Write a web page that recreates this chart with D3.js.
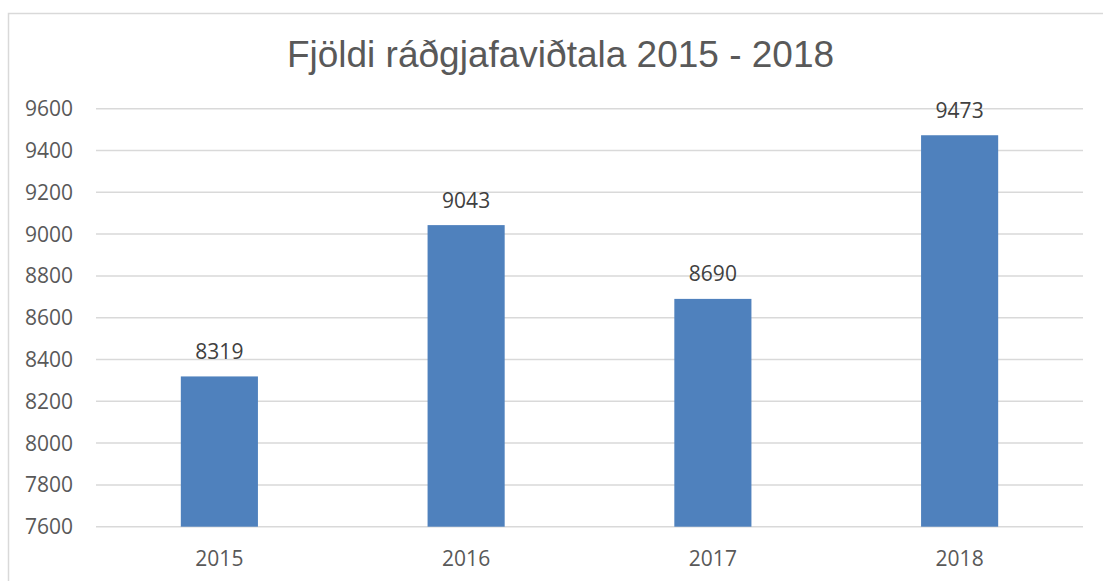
<!DOCTYPE html>
<html>
<head>
<meta charset="utf-8">
<script src="https://cdn.jsdelivr.net/npm/d3@7"></script>
<style>
  body { margin: 0; background: #fff; }
  svg { display: block; }
</style>
</head>
<body>
<div class="chart"></div>
<script>
var years = ["2015", "2016", "2017", "2018"];
var counts = [8319, 9043, 8690, 9473];
var yTicks = [7600, 7800, 8000, 8200, 8400, 8600, 8800, 9000, 9200, 9400, 9600];
var title = "Fjöldi ráðgjafaviðtala 2015 - 2018";

var width = 1103, height = 581;
var margin = {top: 108.7, right: 20, bottom: 54.3, left: 96};

var svg = d3.select(".chart")
    .append("svg")
    .attr("width", width)
    .attr("height", height);

// chart frame
svg.append("rect")
    .attr("x", 8.5)
    .attr("y", 13.5)
    .attr("width", width + 20)
    .attr("height", height + 20)
    .style("fill", "none")
    .style("stroke", "#d9d9d9")
    .style("stroke-width", 1.5);

var x = d3.scaleBand()
    .domain(years)
    .range([margin.left, 1083])
    .paddingInner(0.6875)
    .paddingOuter(0.34375);

var y = d3.scaleLinear()
    .domain([7600, 9600])
    .range([height - margin.bottom, margin.top]);

// gridlines
svg.append("g")
    .selectAll("line")
    .data(yTicks)
    .enter()
    .append("line")
    .attr("x1", margin.left)
    .attr("x2", 1083)
    .attr("y1", function(d) { return y(d); })
    .attr("y2", function(d) { return y(d); })
    .style("stroke", "#d9d9d9")
    .style("stroke-width", 1.5);

// y axis labels
svg.append("g")
    .selectAll("text")
    .data(yTicks)
    .enter()
    .append("text")
    .attr("x", 73)
    .attr("y", function(d) { return y(d); })
    .attr("dy", "0.36em")
    .attr("text-anchor", "end")
    .style("font-family", "'Open Sans', sans-serif")
    .style("font-size", "21px")
    .style("fill", "#595959")
    .text(function(d) { return d; });

// bars
svg.append("g")
    .selectAll("rect")
    .data(counts)
    .enter()
    .append("rect")
    .attr("x", function(d, i) { return x(years[i]); })
    .attr("y", function(d) { return y(d); })
    .attr("width", x.bandwidth())
    .attr("height", function(d) { return y(7600) - y(d); })
    .style("fill", "#4f81bd");

// data labels
svg.append("g")
    .selectAll("text")
    .data(counts)
    .enter()
    .append("text")
    .attr("x", function(d, i) { return x(years[i]) + x.bandwidth() / 2; })
    .attr("y", function(d) { return y(d) - 17.5; })
    .attr("text-anchor", "middle")
    .style("font-family", "'Open Sans', sans-serif")
    .style("font-size", "21px")
    .style("fill", "#404040")
    .text(function(d) { return d; });

// x axis labels
svg.append("g")
    .selectAll("text")
    .data(years)
    .enter()
    .append("text")
    .attr("x", function(d) { return x(d) + x.bandwidth() / 2; })
    .attr("y", 566)
    .attr("text-anchor", "middle")
    .style("font-family", "'Open Sans', sans-serif")
    .style("font-size", "21px")
    .style("fill", "#595959")
    .text(function(d) { return d; });

// title
svg.append("text")
    .attr("x", 560.5)
    .attr("y", 67)
    .attr("text-anchor", "middle")
    .style("font-family", "'Liberation Sans', Arial, sans-serif")
    .style("font-size", "37px")
    .style("fill", "#595959")
    .text(title);
</script>
</body>
</html>
